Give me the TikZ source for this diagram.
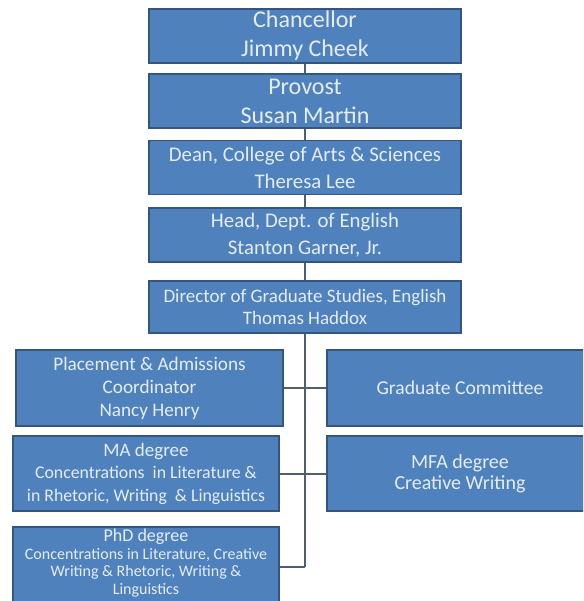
\documentclass[tikz,border=0pt]{standalone}
\usepackage{fontspec}
\setmainfont{Carlito}
\definecolor{boxblue}{HTML}{4F81BD}
\definecolor{boxedge}{HTML}{34557D}
\definecolor{boxtext}{HTML}{E4EDF8}
\definecolor{linkgray}{HTML}{4F5F70}

\begin{document}
\begin{tikzpicture}[x=1pt, y=-1pt,
  orgbox/.style={draw=boxedge, line width=1.8pt, fill=boxblue, text=boxtext, align=center, inner sep=0pt},
  topbox/.style={orgbox, minimum width=312pt, minimum height=54pt},
  sidebox/.style={orgbox, minimum width=266pt, minimum height=76pt},
  link/.style={draw=linkgray, line width=2pt}]
  % page frame
  \useasboundingbox (0,0) rectangle (583,601);
  \clip (0,0) rectangle (583,601);
  % top chain
  \node[topbox, font=\fontsize{24}{29}\selectfont] (chancellor) at (305,36) {Chancellor\\Jimmy Cheek};
  \node[topbox, font=\fontsize{24}{29}\selectfont] (provost) at (305,101) {Provost\\Susan Martin};
  \node[topbox, font=\fontsize{20.8}{27}\selectfont] (dean) at (305,167.5) {Dean, College of Arts \& Sciences\\Theresa Lee};
  \node[topbox, font=\fontsize{20.8}{27}\selectfont] (head) at (305,235) {Head, Dept. of English\\Stanton Garner, Jr.};
  \node[topbox, minimum height=52pt, font=\fontsize{19}{22}\selectfont] (director) at (305,307) {Director of Graduate Studies, English\\Thomas Haddox};
  % left column
  \node[sidebox, minimum width=267pt, font=\fontsize{19.2}{23}\selectfont] (placement) at (149.5,388) {Placement \& Admissions\\Coordinator\\Nancy Henry};
  \node[sidebox, minimum height=75pt, font=\fontsize{17.8}{22.5}\selectfont] (ma) at (146,473.5) {{\fontsize{19}{22.5}\selectfont MA degree}\\Concentrations~ in Literature \&\\in Rhetoric, Writing~ \& Linguistics};
  \node[sidebox, minimum height=80pt, font=\fontsize{16}{17.5}\selectfont, text depth=11pt] (phd) at (146,567) {{\fontsize{18}{17.5}\selectfont PhD degree}\\Concentrations in Literature, Creative\\Writing \& Rhetoric, Writing \&\\Linguistics};
  % right column
  \node[sidebox, font=\fontsize{19.6}{23}\selectfont] (committee) at (460,388) {Graduate Committee};
  \node[sidebox, minimum height=75pt, font=\fontsize{20}{21}\selectfont] (mfa) at (460,473.5) {MFA degree\\Creative Writing};
  % connectors
  \coordinate (trunkend) at (director.south |- phd.east);
  \draw[link] (chancellor) -- (provost);
  \draw[link] (provost) -- (dean);
  \draw[link] (dean) -- (head);
  \draw[link] (head) -- (director);
  \draw[link] (director) -- (trunkend);
  \draw[link] (placement) -- (committee);
  \draw[link] (ma) -- (mfa);
  \draw[link] (phd) -- (trunkend);
\end{tikzpicture}
\end{document}
